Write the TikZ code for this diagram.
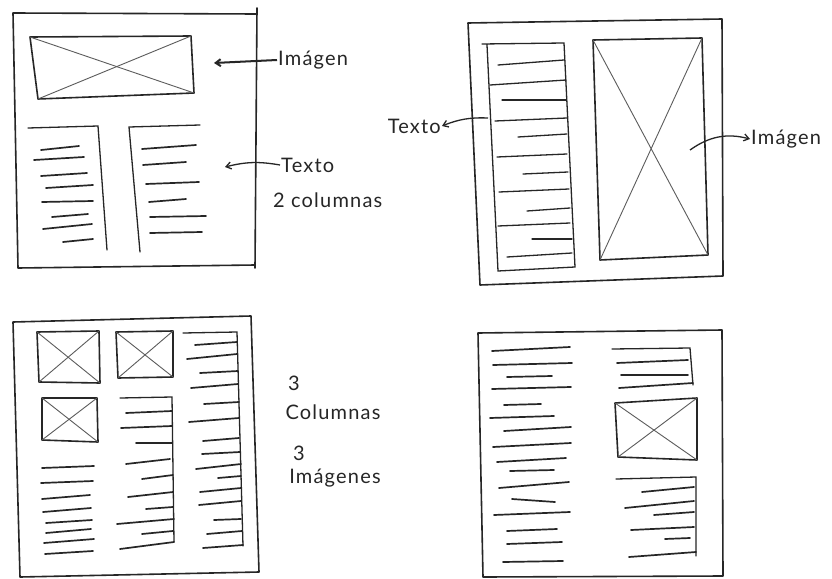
\documentclass[tikz,border=0pt]{standalone}
\usepackage{fontspec}
\newfontfamily\hand[LetterSpace=6]{Lato}
\usetikzlibrary{arrows.meta}
\definecolor{ink}{HTML}{262626}
\tikzset{
  frame/.style={draw=ink, line width=1.6pt, line join=round, line cap=round},
  tl/.style={draw=ink, line width=1.7pt, line cap=round},
  edge/.style={draw=ink, line width=1.3pt, line cap=round},
  cross/.style={draw=ink!75, line width=0.9pt, line cap=round},
  lbl/.style={font=\hand\fontsize{20}{22}\selectfont, text=ink, inner sep=1pt},
  arr/.style={draw=ink, line width=1.3pt, -{Straight Barb[length=5pt,width=7pt]}},
}
\begin{document}
\begin{tikzpicture}[x=1pt,y=-1pt]
\useasboundingbox (0,0) rectangle (832,578);
\fill[white] (0,0) rectangle (832,578);

% ---------- Panel 1 (top-left) ----------
\draw[frame] (257,8) -- (255,268);
\draw[frame] (255,265) -- (18,268) -- (13,13) -- (257,14);
% image box
\draw[frame] (30,37) -- (191,36) -- (194,93) -- (38,99) -- cycle;
\draw[cross] (30,37) -- (194,93);
\draw[cross] (191,36) -- (38,99);
% left column
\draw[edge] (28,128) -- (98,126) -- (107,250);
\foreach \a/\b/\c/\d in {41/150/79/146, 34/160/84/157, 41/176/87/173, 46/188/93/185,
  42/202/93/201, 52/217/88/214, 43/229/92/224, 63/242/93/239}
  \draw[tl] (\a,\b) -- (\c,\d);
% right column
\draw[edge] (200,125) -- (129,127) -- (140,252);
\foreach \a/\b/\c/\d in {142/149/196/145, 143/165/186/162, 146/184/199/182,
  149/202/186/199, 150/217/206/216, 150/233/202/232}
  \draw[tl] (\a,\b) -- (\c,\d);
% labels
\node[lbl, anchor=west] (i1) at (277,60) {Imágen};
\coordinate (c1i) at (214,63);
\draw[arr, line width=2pt] (i1.west) -- (c1i);
\node[lbl, anchor=west] (t1) at (280,165) {Texto};
\coordinate (c1t) at (225,167);
\draw[arr] (t1.west) to[bend right=12] (c1t);
\node[lbl, anchor=west] (c1) at (272,200) {2 columnas};

% ---------- Panel 2 (top-right) ----------
\draw[frame] (468,23) -- (722,19) -- (723,276) -- (480,285) -- cycle;
% text column
\draw[edge] (482,44) -- (564,43) -- (575,267) -- (498,271) -- (487,45);
\foreach \a/\b/\c/\d in {498/65/564/60, 490/85/566/80, 502/100/566/100, 495/121/567/118,
  518/137/567/134, 497/157/567/154, 523/174/568/172, 499/192/569/189,
  527/211/570/208, 498/226/570/223, 532/239/572/239, 507/257/572/253}
  \draw[edge] (\a,\b) -- (\c,\d);
% image box
\draw[frame] (593,40) -- (702,38) -- (708,255) -- (600,260) -- cycle;
\draw[cross] (593,40) -- (708,255);
\draw[cross] (702,38) -- (600,260);
% labels
\node[lbl, anchor=east] (t2) at (442,126) {Texto};
\coordinate (c2t) at (488,118);
\draw[arr] (c2t) to[bend right=12] (t2.east);
\node[lbl, anchor=west] (i2) at (750,139) {Imágen};
\coordinate (c2i) at (690,150);
\draw[arr] (c2i) to[bend left=25] (i2.west);

% ---------- Panel 3 (bottom-left) ----------
\draw[frame] (13,322) -- (251,316) -- (259,572) -- (20,577) -- cycle;
% image boxes
\draw[frame] (37,332) -- (99,331) -- (100,383) -- (39,382) -- cycle;
\draw[cross] (37,332) -- (100,383);
\draw[cross] (99,331) -- (39,382);
\draw[frame] (116,332) -- (173,331) -- (173,377) -- (118,378) -- cycle;
\draw[cross] (116,332) -- (173,377);
\draw[cross] (173,331) -- (118,378);
\draw[frame] (42,398) -- (97,398) -- (98,442) -- (42,440) -- cycle;
\draw[cross] (42,398) -- (98,442);
\draw[cross] (97,398) -- (42,440);
% left text lines
\foreach \a/\b/\c/\d in {42/468/94/466, 41/483/93/481, 42/499/90/495, 43/512/91/508,
  46/523/92/520, 46/533/91/529, 44/543/94/539, 45/554/93/551}
  \draw[tl] (\a,\b) -- (\c,\d);
% middle column
\draw[edge] (120,398) -- (172,397) -- (174,542);
\foreach \a/\b/\c/\d in {126/413/172/411, 121/428/172/426, 136/443/172/443, 126/464/170/459,
  142/479/173/475, 128/497/173/492, 146/509/173/507, 117/524/174/519,
  142/534/173/531, 120/549/174/542}
  \draw[tl] (\a,\b) -- (\c,\d);
% right column
\draw[edge] (183,333) -- (237,332) -- (243,546);
\foreach \a/\b/\c/\d in {195/345/237/342, 187/359/237/354, 200/373/238/371, 191/388/238/384,
  204/404/239/402, 189/422/239/418, 203/441/239/438, 202/454/240/452,
  196/469/241/464, 218/478/241/476, 200/492/241/488, 199/505/241/501,
  214/520/241/519, 207/534/242/531, 203/548/243/545}
  \draw[tl] (\a,\b) -- (\c,\d);
% labels
\node[lbl] (n3a) at (294,383) {3};
\node[lbl] (col3) at (333,412) {Columnas};
\node[lbl] (n3b) at (299,453) {3};
\node[lbl] (img3) at (335,478) {Imágenes};

% ---------- Panel 4 (bottom-right) ----------
\draw[frame] (478,333) -- (722,330) -- (723,576) -- (483,577) -- cycle;
% left text lines
\foreach \a/\b/\c/\d in {492/351/570/347, 493/365/572/363, 507/377/552/376, 492/389/571/387,
  504/405/541/404, 490/418/554/416, 504/431/571/427, 493/447/571/443,
  497/462/566/458, 510/471/554/470, 499/488/569/482, 512/499/555/502,
  494/515/570/512, 507/531/557/529, 507/544/562/542, 503/562/563/561}
  \draw[tl] (\a,\b) -- (\c,\d);
% right upper block
\draw[edge] (612,349) -- (690,348) -- (693,385);
\foreach \a/\b/\c/\d in {617/363/688/360, 621/375/688/375, 619/388/693/383}
  \draw[tl] (\a,\b) -- (\c,\d);
% image box
\draw[frame] (615,403) -- (697,398) -- (697,460) -- (618,457) -- cycle;
\draw[cross] (615,403) -- (697,460);
\draw[cross] (697,398) -- (618,457);
% right lower block
\draw[edge] (616,479) -- (696,477) -- (696,556);
\foreach \a/\b/\c/\d in {642/492/694/487, 625/508/694/501, 654/515/694/512,
  631/530/694/527, 665/539/690/538, 629/557/696/552}
  \draw[tl] (\a,\b) -- (\c,\d);
\end{tikzpicture}
\end{document}
